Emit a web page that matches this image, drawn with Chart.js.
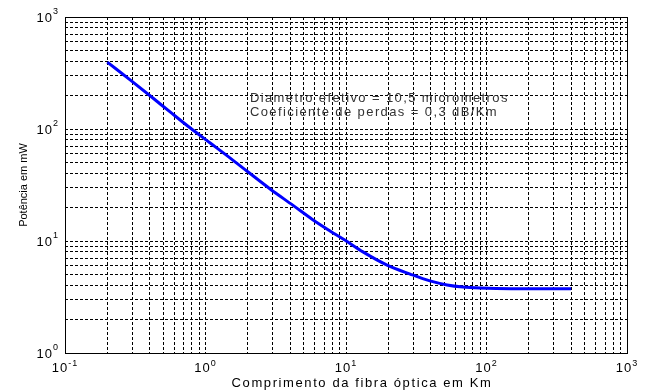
<!DOCTYPE html>
<html>
<head>
<meta charset="utf-8">
<script src="https://cdn.jsdelivr.net/npm/chart.js@4"></script>
<style>
html,body{margin:0;padding:0;background:#fff;}
canvas{display:block;}
</style>
</head>
<body>
<canvas id="c" width="651" height="392"></canvas>
<script>
// ---- data ----
const distanceKm = [0.2, 0.3, 0.42, 0.56, 0.78, 1.08, 1.5, 2, 2.9, 4.2, 5.8, 7.7, 9.8, 13.2, 19.6, 28.6, 39.6, 52.4, 68, 90, 150, 400];
const powerMw    = [396, 266, 190, 142, 102, 75, 55, 41.5, 29, 20.8, 15.5, 12.3, 10.2, 8.0, 6.1, 5.07, 4.40, 4.05, 3.88, 3.80, 3.75, 3.75];
const xDecades = [0.1, 1, 10, 100, 1000];
const yDecades = [1, 10, 100, 1000];
const xTitle = 'Comprimento da fibra óptica em Km';
const yTitle = 'Potência em mW';
const noteLines = ['Diametro efetivo = 10,5 micrometros', 'Coeficiente de perdas = 0,3 dB/Km'];
const noteAnchor = {x: 2.07, y: 174};

function gridTicks(decades) {
  const out = [];
  for (let i = 0; i < decades.length; i++) {
    const d = decades[i];
    if (i === decades.length - 1) { out.push({value: d}); break; }
    for (let m = 1; m <= 9; m++) out.push({value: d * m});
  }
  return out;
}

const FONT = '"Liberation Sans", Arial, sans-serif';

function drawPow(ctx, exp, x, y, align, baseSize, supSize, supRise) {
  ctx.font = baseSize + 'px ' + FONT;
  const wb = ctx.measureText('10').width;
  ctx.font = supSize + 'px ' + FONT;
  const we = ctx.measureText(exp).width;
  let left;
  if (align === 'center') left = x - (wb + we) / 2;
  else left = x - (wb + we);
  ctx.textAlign = 'left';
  ctx.textBaseline = 'alphabetic';
  ctx.font = baseSize + 'px ' + FONT;
  ctx.fillText('10', left, y);
  ctx.font = supSize + 'px ' + FONT;
  ctx.fillText(exp, left + wb, y - supRise);
}

const decor = {
  id: 'decor',
  beforeDraw(chart) {
    const ctx = chart.ctx;
    ctx.save();
    ctx.fillStyle = '#fff';
    ctx.fillRect(0, 0, chart.width, chart.height);
    ctx.restore();
  },
  afterDraw(chart) {
    const ctx = chart.ctx;
    const a = chart.chartArea;
    const xs = chart.scales.x, ys = chart.scales.y;
    ctx.save();
    // frame
    ctx.strokeStyle = '#000';
    ctx.lineWidth = 1;
    ctx.setLineDash([]);
    ctx.strokeRect(Math.round(a.left) + 0.5, Math.round(a.top) + 0.5, Math.round(a.right - a.left), Math.round(a.bottom - a.top));
    ctx.fillStyle = '#000';
    ctx.letterSpacing = '1px';
    // x tick labels
    xDecades.forEach(v => {
      const px = xs.getPixelForValue(v);
      drawPow(ctx, String(Math.round(Math.log10(v))), px, a.bottom + 19, 'center', 13, 9, 6);
    });
    // y tick labels
    yDecades.forEach(v => {
      const py = ys.getPixelForValue(v);
      drawPow(ctx, String(Math.round(Math.log10(v))), a.left - 6, py + 5, 'right', 13, 9, 8);
    });
    // x title
    ctx.letterSpacing = '1.6px';
    ctx.font = '13px ' + FONT;
    ctx.textAlign = 'center';
    ctx.textBaseline = 'alphabetic';
    ctx.fillText(xTitle, (a.left + a.right) / 2 + 16, a.bottom + 34);
    // y title
    ctx.save();
    ctx.translate(27, (a.top + a.bottom) / 2);
    ctx.rotate(-Math.PI / 2);
    ctx.letterSpacing = '0px';
    ctx.font = '11px ' + FONT;
    ctx.fillText(yTitle, 0, 0);
    ctx.restore();
    // note
    ctx.fillStyle = '#333';
    ctx.letterSpacing = '1.4px';
    ctx.font = '13px ' + FONT;
    ctx.textAlign = 'left';
    const nx = xs.getPixelForValue(noteAnchor.x);
    const ny = ys.getPixelForValue(noteAnchor.y);
    noteLines.forEach((t, i) => ctx.fillText(t, nx, ny + i * 14));
    ctx.restore();
  }
};

const gridOpts = {color: '#000', lineWidth: 1, drawTicks: false};
new Chart(document.getElementById('c'), {
  type: 'line',
  data: {
    datasets: [{
      data: distanceKm.map((x, i) => ({x: x, y: powerMw[i]})),
      borderColor: '#0000ff',
      borderWidth: 3,
      pointRadius: 0,
      fill: false,
      cubicInterpolationMode: 'monotone'
    }]
  },
  options: {
    responsive: false,
    devicePixelRatio: 1,
    animation: false,
    layout: {padding: {left: 65, top: 17, right: 24, bottom: 39}},
    plugins: {legend: {display: false}, tooltip: {enabled: false}},
    scales: {
      x: {
        type: 'logarithmic', min: 0.1, max: 1000,
        afterBuildTicks: s => { s.ticks = gridTicks(xDecades); },
        ticks: {display: false},
        grid: gridOpts,
        border: {display: false, dash: [3, 2]}
      },
      y: {
        type: 'logarithmic', min: 1, max: 1000,
        afterBuildTicks: s => { s.ticks = gridTicks(yDecades); },
        ticks: {display: false},
        grid: gridOpts,
        border: {display: false, dash: [3, 2]}
      }
    }
  },
  plugins: [decor]
});
</script>
</body>
</html>
